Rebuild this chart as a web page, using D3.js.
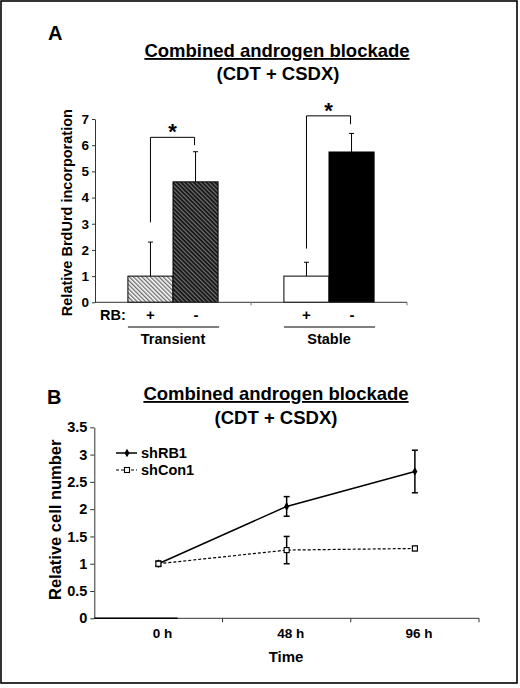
<!DOCTYPE html>
<html>
<head>
<meta charset="utf-8">
<script src="https://cdn.jsdelivr.net/npm/d3@7/dist/d3.min.js"></script>
<style>
  html, body { margin: 0; padding: 0; background: #fff; }
  svg { display: block; font-family: "Liberation Sans", Arial, sans-serif; font-weight: bold; }
</style>
</head>
<body>
<svg id="chart" width="520" height="688"></svg>
<script>
// ---------- Panel A data ----------
const groupsA = ["Transient", "Stable"];
const rbStatus = ["+", "-"];
const brduMeans = [[1.0, 4.6], [1.0, 5.74]];     // [group][+,-]
const brduErr   = [[1.3, 1.15], [0.53, 0.71]];   // upward error
const ticksA = [0, 1, 2, 3, 4, 5, 6, 7];

// ---------- Panel B data ----------
const timepoints = ["0 h", "48 h", "96 h"];
const shRB1 = [1.0, 2.05, 2.69];
const shRB1Err = [0.03, 0.18, 0.39];
const shCon1 = [1.0, 1.25, 1.28];
const shCon1Err = [0.05, 0.25, 0.04];
const ticksB = [0, 0.5, 1, 1.5, 2, 2.5, 3, 3.5];

const svg = d3.select("#chart");

// frame
svg.append("rect").attr("x", 1).attr("y", 1).attr("width", 516).attr("height", 682)
  .attr("fill", "none").attr("stroke", "#000").attr("stroke-width", 1.6);

// patterns
const defs = svg.append("defs");
const pL = defs.append("pattern").attr("id", "hatchLight").attr("patternUnits", "userSpaceOnUse")
  .attr("width", 3).attr("height", 3).attr("patternTransform", "rotate(-45)");
pL.append("rect").attr("width", 3).attr("height", 3).attr("fill", "#fff");
pL.append("line").attr("x1", 0.7).attr("y1", 0).attr("x2", 0.7).attr("y2", 3)
  .attr("stroke", "#666").attr("stroke-width", 1.3);
const pD = defs.append("pattern").attr("id", "hatchDark").attr("patternUnits", "userSpaceOnUse")
  .attr("width", 3).attr("height", 3).attr("patternTransform", "rotate(-45)");
pD.append("rect").attr("width", 3).attr("height", 3).attr("fill", "#111");
pD.append("line").attr("x1", 0.7).attr("y1", 0).attr("x2", 0.7).attr("y2", 3)
  .attr("stroke", "#999").attr("stroke-width", 0.9);

const fills = [["url(#hatchLight)", "url(#hatchDark)"], ["#fff", "#000"]];

// ================= Panel A =================
const xA = d3.scaleBand().domain(groupsA).range([95, 407]).padding(0);
const xAin = d3.scaleBand().domain(rbStatus).range([0, xA.bandwidth()]).paddingInner(0).paddingOuter(0.73);
const yA = d3.scaleLinear().domain([0, 7]).range([302.3, 119]);

svg.append("text").attr("x", 48).attr("y", 40).attr("font-size", 20).text("A");
svg.append("text").attr("x", 277).attr("y", 57).attr("font-size", 18.5)
  .attr("text-anchor", "middle").attr("text-decoration", "underline").text("Combined androgen blockade");
svg.append("text").attr("x", 278).attr("y", 80).attr("font-size", 18.5)
  .attr("text-anchor", "middle").text("(CDT + CSDX)");

const gA = svg.append("g");
// bars
groupsA.forEach((g, gi) => {
  rbStatus.forEach((s, si) => {
    const x0 = xA(g) + xAin(s);
    const w = xAin.bandwidth();
    const v = brduMeans[gi][si];
    const e = brduErr[gi][si];
    const cx = x0 + w / 2;
    // error bar (upward)
    gA.append("line").attr("x1", cx).attr("x2", cx).attr("y1", yA(v)).attr("y2", yA(v + e))
      .attr("stroke", "#000").attr("stroke-width", 1);
    gA.append("line").attr("x1", cx - 2.5).attr("x2", cx + 2.5).attr("y1", yA(v + e)).attr("y2", yA(v + e))
      .attr("stroke", "#000").attr("stroke-width", 1);
    gA.append("rect").attr("x", x0).attr("y", yA(v)).attr("width", w).attr("height", yA(0) - yA(v))
      .attr("fill", fills[gi][si]).attr("stroke", "#000").attr("stroke-width", 1);
  });
});

// y axis
const axA = svg.append("g").attr("transform", "translate(95,0)")
  .call(d3.axisLeft(yA).tickValues(ticksA).tickSize(3).tickSizeOuter(0).tickPadding(3).tickFormat(d3.format("d")));
axA.selectAll("text").attr("font-size", 13.5).attr("font-family", null).attr("font-weight", "bold").attr("fill", "#000");
axA.select(".domain").attr("stroke", "#333");
axA.selectAll(".tick line").attr("stroke", "#333");
svg.append("text").attr("transform", `translate(72,${(yA(0) + yA(7)) / 2 + 2}) rotate(-90)`)
  .attr("text-anchor", "middle").attr("font-size", 14.5).text("Relative BrdUrd incorporation");

// x axis line with ticks at group boundaries
svg.append("line").attr("x1", 95).attr("x2", 407).attr("y1", yA(0)).attr("y2", yA(0))
  .attr("stroke", "#333").attr("stroke-width", 1);
groupsA.forEach(g => {
  const xt = xA(g) + xA.bandwidth();
  svg.append("line").attr("x1", xt).attr("x2", xt).attr("y1", yA(0)).attr("y2", yA(0) + 3)
    .attr("stroke", "#777").attr("stroke-width", 1);
});

// RB labels
svg.append("text").attr("x", 100).attr("y", 320).attr("font-size", 14.5).text("RB:");
groupsA.forEach(g => {
  rbStatus.forEach(s => {
    svg.append("text").attr("x", xA(g) + xAin(s) + xAin.bandwidth() / 2 + (s === "+" ? 0 : 0.5))
      .attr("y", 320).attr("text-anchor", "middle").attr("font-size", 15).text(s);
  });
  const x0 = xA(g) + xAin("+");
  const x1 = xA(g) + xAin("-") + xAin.bandwidth();
  svg.append("line").attr("x1", x0).attr("x2", x1 + 1).attr("y1", 327).attr("y2", 327)
    .attr("stroke", "#000").attr("stroke-width", 1.2);
  svg.append("text").attr("x", (x0 + x1) / 2).attr("y", 344).attr("text-anchor", "middle")
    .attr("font-size", 14.5).text(g);
});

// significance brackets
const brackets = [
  { g: "Transient", left: 3.05, top: 6.3, right: 6.0 },
  { g: "Stable", left: 2.05, top: 7.12, right: 6.8 }
];
brackets.forEach(b => {
  const xl = xA(b.g) + xAin("+") + xAin.bandwidth() / 2;
  const xr = xA(b.g) + xAin("-") + xAin.bandwidth() / 2 - 1;
  svg.append("path")
    .attr("d", `M${xl},${yA(b.left)}V${yA(b.top)}H${xr}V${yA(b.right)}`)
    .attr("fill", "none").attr("stroke", "#000").attr("stroke-width", 1);
  svg.append("text").attr("x", (xl + xr) / 2).attr("y", yA(b.top) + 2)
    .attr("text-anchor", "middle").attr("font-size", 22).text("*");
});

// ================= Panel B =================
const xB = d3.scaleBand().domain(timepoints).range([94.3, 479]).padding(0);
const yB = d3.scaleLinear().domain([0, 3.5]).range([618.3, 427.3]);

svg.append("text").attr("x", 47).attr("y", 404).attr("font-size", 20).text("B");
svg.append("text").attr("x", 276).attr("y", 400).attr("font-size", 18.5)
  .attr("text-anchor", "middle").attr("text-decoration", "underline").text("Combined androgen blockade");
svg.append("text").attr("x", 276).attr("y", 424).attr("font-size", 18.5)
  .attr("text-anchor", "middle").text("(CDT + CSDX)");

const axB = svg.append("g").attr("transform", "translate(94.3,0)")
  .call(d3.axisLeft(yB).tickValues(ticksB).tickSize(4).tickSizeOuter(0).tickPadding(3).tickFormat(d => d3.format("")(d)));
axB.selectAll("text").attr("font-size", 14.5).attr("font-family", null).attr("font-weight", "bold").attr("fill", "#000");
axB.select(".domain").attr("stroke", "#333");
axB.selectAll(".tick line").attr("stroke", "#333");

svg.append("text").attr("transform", `translate(61,${(yB(0) + yB(3.5)) / 2 - 3}) rotate(-90)`)
  .attr("text-anchor", "middle").attr("font-size", 16.5).text("Relative cell number");

// x axis B
svg.append("line").attr("x1", 94.3).attr("x2", 479).attr("y1", yB(0)).attr("y2", yB(0))
  .attr("stroke", "#333").attr("stroke-width", 1);
svg.append("line").attr("x1", 94.3).attr("x2", xB("0 h") + xB.bandwidth() * 0.65).attr("y1", yB(0)).attr("y2", yB(0))
  .attr("stroke", "#000").attr("stroke-width", 1.6);
timepoints.forEach(t => {
  const xt = xB(t) + xB.bandwidth();
  svg.append("line").attr("x1", xt).attr("x2", xt).attr("y1", yB(0)).attr("y2", yB(0) + 4)
    .attr("stroke", "#333").attr("stroke-width", 1);
  svg.append("text").attr("x", xB(t) + xB.bandwidth() / 2 + 4).attr("y", 638).attr("text-anchor", "middle")
    .attr("font-size", 13.5).text(t);
});
svg.append("text").attr("x", 286).attr("y", 662).attr("text-anchor", "middle").attr("font-size", 15).text("Time");

const cxB = t => xB(t) + xB.bandwidth() / 2;
const lineGen = d3.line().x(d => cxB(d.t)).y(d => yB(d.v));
const seriesRB = timepoints.map((t, i) => ({ t, v: shRB1[i], e: shRB1Err[i] }));
const seriesCon = timepoints.map((t, i) => ({ t, v: shCon1[i], e: shCon1Err[i] }));

function errorBars(data) {
  data.forEach(d => {
    const x = cxB(d.t);
    svg.append("line").attr("x1", x).attr("x2", x).attr("y1", yB(d.v - d.e)).attr("y2", yB(d.v + d.e))
      .attr("stroke", "#000").attr("stroke-width", 1.5);
    [d.v - d.e, d.v + d.e].forEach(v => {
      svg.append("line").attr("x1", x - 3).attr("x2", x + 3).attr("y1", yB(v)).attr("y2", yB(v))
        .attr("stroke", "#000").attr("stroke-width", 1.5);
    });
  });
}
errorBars(seriesCon);
errorBars(seriesRB);

svg.append("path").datum(seriesCon).attr("d", lineGen).attr("fill", "none")
  .attr("stroke", "#000").attr("stroke-width", 1.2).attr("stroke-dasharray", "3,2");
svg.append("path").datum(seriesRB).attr("d", lineGen).attr("fill", "none")
  .attr("stroke", "#000").attr("stroke-width", 1.5);

const diamond = d3.symbol().type(d3.symbolDiamond).size(22);
seriesRB.forEach(d => {
  svg.append("path").attr("d", diamond).attr("transform", `translate(${cxB(d.t)},${yB(d.v)})`).attr("fill", "#000");
});
seriesCon.forEach(d => {
  svg.append("rect").attr("x", cxB(d.t) - 2.5).attr("y", yB(d.v) - 2.5).attr("width", 5).attr("height", 5)
    .attr("fill", "#fff").attr("stroke", "#000").attr("stroke-width", 1.1);
});

// legend
const leg = [
  { name: "shRB1", dash: null, y: 453 },
  { name: "shCon1", dash: "3,2", y: 470 }
];
leg.forEach((l, i) => {
  svg.append("line").attr("x1", 116).attr("x2", 137).attr("y1", l.y).attr("y2", l.y)
    .attr("stroke", "#000").attr("stroke-width", i === 0 ? 1.5 : 1.2).attr("stroke-dasharray", l.dash);
  if (i === 0) {
    svg.append("path").attr("d", diamond).attr("transform", `translate(127,${l.y})`).attr("fill", "#000");
  } else {
    svg.append("rect").attr("x", 124.5).attr("y", l.y - 2.5).attr("width", 5).attr("height", 5)
      .attr("fill", "#fff").attr("stroke", "#000").attr("stroke-width", 1.1);
  }
  svg.append("text").attr("x", 141).attr("y", l.y + 5).attr("font-size", 14.5).text(l.name);
});
</script>
</body>
</html>
